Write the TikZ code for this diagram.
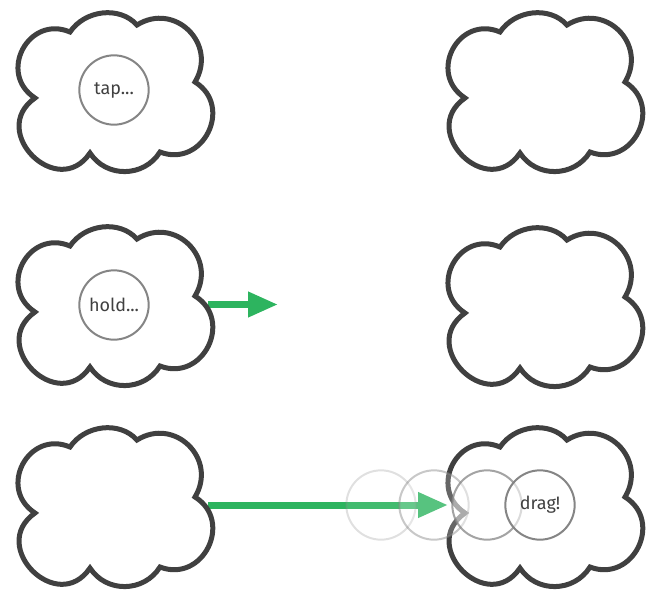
\documentclass[tikz,border=0pt]{standalone}
\usepackage{fontspec}
\setmainfont{Fira Sans}
\usetikzlibrary{arrows.meta}

\definecolor{cloudgray}{HTML}{404040}
\definecolor{ringgray}{HTML}{858585}
\definecolor{movegreen}{HTML}{2DB45F}

\tikzset{
   cloudline/.style={draw=cloudgray, line width=3.75pt, line join=miter},
   touch/.style={circle, draw=ringgray, line width=1.5pt, fill=white,
      minimum size=52pt, inner sep=0pt, text=cloudgray,
      font=\fontsize{13.5}{15}\selectfont},
   move/.style={draw=movegreen, line width=5.25pt,
      -{Triangle[length=22.5pt, width=18pt]}},
   cloud/.pic={
      \draw[cloudline] (-79,-8) to[out=147, in=157, looseness=1.55] (-44,58)
         to[out=56, in=132] (23,65)
         to[out=32, in=59, looseness=1.4] (81,8)
         to[out=-32, in=-21, looseness=1.5] (46,-62)
         to[out=-122, in=-57, looseness=1.1] (-24,-63)
         to[out=-124, in=215, looseness=1.9] (-79,-8) -- cycle;
      \coordinate (-east) at (94,0);
   }
}

\begin{document}
\begin{tikzpicture}[x=0.75pt, y=0.75pt]
   \useasboundingbox (0,0) rectangle (654,-593);

   % arrows go under the clouds
   \coordinate (holdend) at (278,-304.5);
   \coordinate (dragend) at (448,-505);
   \draw[move] (114+94,-304.5) -- (holdend);
   \draw[move] (114+94,-505) -- (dragend);

   % left column
   \pic (tapcloud) at (114,-90) {cloud};
   \pic (holdcloud) at (114,-304) {cloud};
   \pic (dragcloud) at (114,-505) {cloud};

   % right column
   \pic (tapright) at (544,-90) {cloud};
   \pic (holdright) at (544,-305) {cloud};
   \pic (dragright) at (544,-505) {cloud};

   \node[touch] (tap) at (114,-90) {tap...};
   \node[touch] (hold) at (114,-305) {hold...};

   % trail of the finger
   \foreach \x/\o/\f [count=\i] in {381/0.25/0.1, 434/0.45/0.2, 487/0.75/0.45}
      \node[touch, draw opacity=\o, fill opacity=\f] (trail\i) at (\x,-505) {};
   \node[touch, fill opacity=0.6, text opacity=1] (drag) at (540,-505) {drag!};

\end{tikzpicture}
\end{document}
